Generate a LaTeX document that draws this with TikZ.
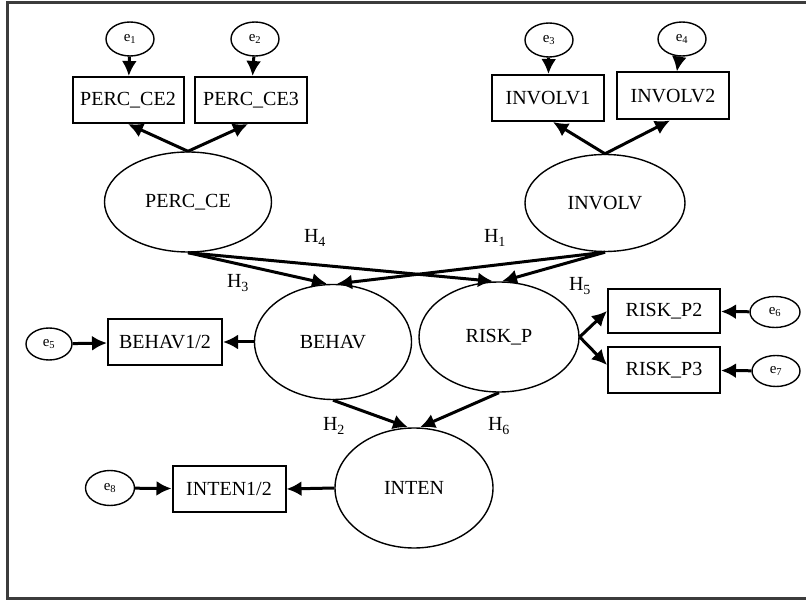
\documentclass[tikz,border=0pt]{standalone}
\usepackage{fontspec}
\setmainfont{Liberation Serif}
\usetikzlibrary{shapes.geometric,arrows.meta,calc}

\definecolor{framegray}{HTML}{3C3C3C}

\begin{document}
\begin{tikzpicture}[x=1pt,y=-1pt,
  every node/.style={font=\fontsize{20}{22}\selectfont, inner sep=0pt},
  latent/.style={draw, ellipse, line width=1.4pt},
  obs/.style={draw, rectangle, line width=2pt, minimum height=46pt},
  err/.style={draw, ellipse, line width=1.4pt, minimum width=48pt, minimum height=34pt,
              font=\fontsize{15}{17}\selectfont},
  link/.style={line width=3pt, -{Latex[length=15pt,width=15pt]}},
  hyp/.style={font=\fontsize{20}{22}\selectfont}
]
\useasboundingbox (0,0) rectangle (806,601);

% outer frame (right side runs off the page)
\draw[framegray, line width=3pt] (806,3) -- (7,3) -- (7,598) -- (806,598);

% error terms
\node[err] (e1) at (130,39) {e\textsubscript{1}};
\node[err] (e2) at (255,39) {e\textsubscript{2}};
\node[err] (e3) at (549,40) {e\textsubscript{3}};
\node[err] (e4) at (682,39) {e\textsubscript{4}};
\node[err, minimum width=46pt, minimum height=32pt] (e5) at (49,344) {e\textsubscript{5}};
\node[err, minimum width=50pt, minimum height=31pt] (e6) at (775,312) {e\textsubscript{6}};
\node[err, minimum width=48pt, minimum height=31pt] (e7) at (776,371) {e\textsubscript{7}};
\node[err, minimum width=49pt, minimum height=35pt] (e8) at (110,488) {e\textsubscript{8}};

% observed indicators
\node[obs, minimum width=111pt] (pce2) at (128,100) {PERC\_CE2};
\node[obs, minimum width=112pt] (pce3) at (251,100) {PERC\_CE3};
\node[obs, minimum width=112pt] (inv1) at (548,98) {INVOLV1};
\node[obs, minimum width=112pt, minimum height=47pt] (inv2) at (673,96) {INVOLV2};
\node[obs, minimum width=114pt] (beh12) at (165,342) {BEHAV1/2};
\node[obs, minimum width=113pt] (int12) at (229,489) {INTEN1/2};
\node[obs, minimum width=112pt, minimum height=44pt] (rp2) at (664,311) {RISK\_P2};
\node[obs, minimum width=112pt] (rp3) at (664,370) {RISK\_P3};

% latent constructs
\node[latent, minimum width=167pt, minimum height=100pt] (pce) at (188,202) {PERC\_CE};
\node[latent, minimum width=160pt, minimum height=97pt] (inv) at (605,203) {INVOLV};
\node[latent, minimum width=157pt, minimum height=115pt] (behav) at (333,342) {BEHAV};
\node[latent, minimum width=160pt, minimum height=110pt] (risk) at (499,337) {RISK\_P};
\node[latent, minimum width=158pt, minimum height=120pt] (inten) at (414,488) {INTEN};

% measurement paths
\draw[link] (e1) -- (pce2);
\draw[link] (e2) -- (pce3);
\draw[link] (e3) -- (inv1);
\draw[link] (e4) -- (inv2);
\draw[link] (pce.north) -- (pce2.south);
\draw[link] (pce.north) -- ($(pce3.south)+(-3,0)$);
\draw[link] (inv.north) -- ($(inv1.south)+(5,0)$);
\draw[link] (inv.north) -- ($(inv2.south)+(-3,0)$);
\draw[link] (behav.west) -- (beh12.east);
\draw[link] (e5) -- (beh12);
\draw[link] (risk.east) -- (rp2.west);
\draw[link] (risk.east) -- ($(rp3.west)+(0,-5)$);
\draw[link] (e6) -- (rp2);
\draw[link] (e7) -- (rp3);
\draw[link] (inten.west) -- (int12.east);
\draw[link] (e8) -- (int12);

% structural paths
\draw[link] (pce.south) -- ($(behav.north)+(-6,0)$);
\draw[link] (pce.south) -- ($(risk.north)+(-6,0)$);
\draw[link] (inv.south) -- ($(behav.north)+(4,0)$);
\draw[link] (inv.south) -- ($(risk.north)+(3,0)$);
\draw[link] (behav.south) -- ($(inten.north)+(-6,0)$);
\draw[link] (risk.south) -- ($(inten.north)+(6,0)$);

% hypothesis labels
\node[hyp] (h4) at (315,238) {H\textsubscript{4}};
\node[hyp] (h1) at (495,238) {H\textsubscript{1}};
\node[hyp] (h3) at (238,283) {H\textsubscript{3}};
\node[hyp] (h5) at (580,286) {H\textsubscript{5}};
\node[hyp] (h2) at (334,426) {H\textsubscript{2}};
\node[hyp] (h6) at (499,426) {H\textsubscript{6}};
\end{tikzpicture}
\end{document}
